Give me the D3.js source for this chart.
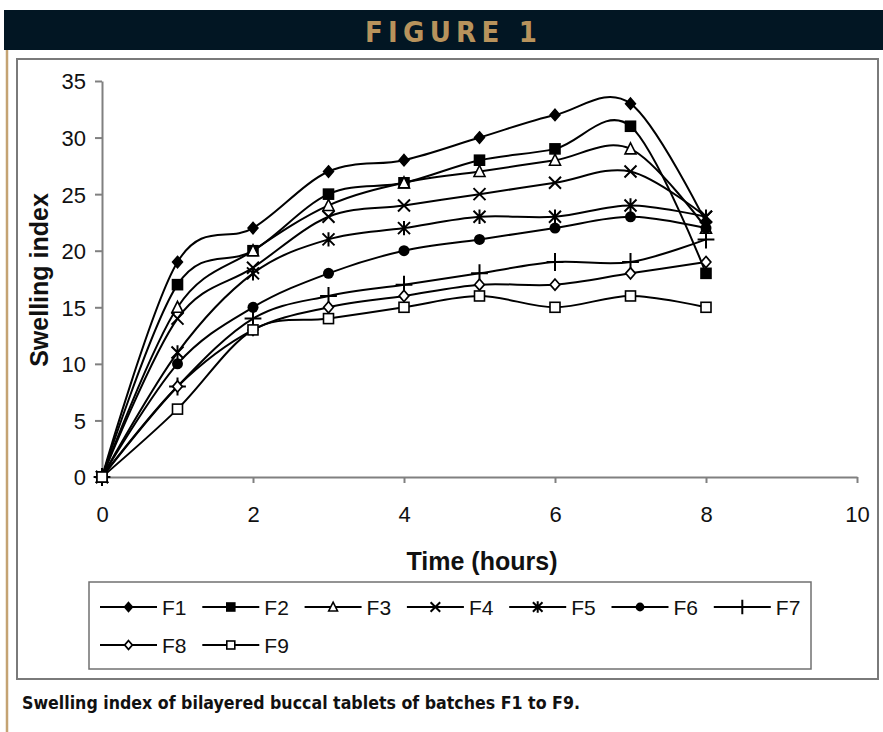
<!DOCTYPE html>
<html>
<head>
<meta charset="utf-8">
<script src="https://cdn.jsdelivr.net/npm/d3@7"></script>
<style>
    body { margin: 0; background: #fff; }
    svg { display: block; }
</style>
</head>
<body>
<div id="example"></div>
<script>
(function () {

    // values
    var times = [0, 1, 2, 3, 4, 5, 6, 7, 8];
    var names = ['F1', 'F2', 'F3', 'F4', 'F5', 'F6', 'F7', 'F8', 'F9'];
    var markers = ['diamondFill', 'squareFill', 'triangle', 'cross', 'asterisk', 'circleFill', 'plus', 'diamond', 'square'];
    var F1 = [0, 19, 22, 27, 28, 30, 32, 33, 22.5],
        F2 = [0, 17, 20, 25, 26, 28, 29, 31, 18],
        F3 = [0, 15, 20, 24, 26, 27, 28, 29, 22],
        F4 = [0, 14, 18.5, 23, 24, 25, 26, 27, 23],
        F5 = [0, 11, 18, 21, 22, 23, 23, 24, 23],
        F6 = [0, 10, 15, 18, 20, 21, 22, 23, 22],
        F7 = [0, 8, 14, 16, 17, 18, 19, 19, 21],
        F8 = [0, 8, 13, 15, 16, 17, 17, 18, 19],
        F9 = [0, 6, 13, 14, 15, 16, 15, 16, 15];
    var series = [F1, F2, F3, F4, F5, F6, F7, F8, F9];
    var xTicks = [0, 2, 4, 6, 8, 10],
        yTicks = [0, 5, 10, 15, 20, 25, 30, 35];

    var width = 883, height = 732;
    var font = '"Liberation Sans", Arial, sans-serif';

    var svg = d3.select('#example').append('svg')
        .attr('width', width).attr('height', height);

    // header band + side rule
    svg.append('rect').attr('x', 4).attr('y', 10).attr('width', width - 4).attr('height', 40)
        .style('fill', '#021623');
    svg.append('text')
        .attr('x', 451).attr('y', 42)
        .attr('text-anchor', 'middle')
        .attr('textLength', 172).attr('lengthAdjust', 'spacing')
        .style('font-family', '"Liberation Sans Narrow", "DejaVu Sans Condensed", sans-serif')
        .style('font-weight', 'bold').style('font-size', '29px')
        .style('fill', '#b8935c')
        .text('FIGURE 1');
    svg.append('line').attr('x1', 7).attr('x2', 7).attr('y1', 50).attr('y2', height)
        .style('stroke', '#c4a373').style('stroke-width', 2.5);

    // chart frame
    svg.append('rect').attr('x', 17).attr('y', 59).attr('width', 861).attr('height', 620)
        .style('fill', '#fff').style('stroke', '#7a7a7a').style('stroke-width', 2);

    var x = d3.scaleLinear().domain([0, 10]).range([102, 857]),
        y = d3.scaleLinear().domain([0, 35]).range([477, 81]);

    var xAxis = svg.append('g').attr('transform', 'translate(0,' + y(0) + ')')
        .call(d3.axisBottom(x).tickValues(xTicks).tickSizeInner(6).tickSizeOuter(0).tickPadding(20));
    var yAxis = svg.append('g').attr('transform', 'translate(' + x(0) + ',0)')
        .call(d3.axisLeft(y).tickValues(yTicks).tickSizeInner(7).tickSizeOuter(0).tickPadding(9));
    [xAxis, yAxis].forEach(function (ax) {
        ax.selectAll('path, line').style('stroke', '#808080').style('stroke-width', 2);
        ax.selectAll('text')
            .style('font-family', font)
            .style('font-size', '22px').style('fill', '#111');
    });
    xAxis.selectAll('text').attr('dy', '0.85em');
    yAxis.selectAll('text').attr('dy', '0.36em');

    svg.append('text')
        .attr('x', 482).attr('y', 570).attr('text-anchor', 'middle')
        .style('font-family', font)
        .style('font-weight', 'bold').style('font-size', '25px').style('fill', '#111')
        .text('Time (hours)');
    svg.append('text')
        .attr('transform', 'translate(48,280) rotate(-90)').attr('text-anchor', 'middle')
        .style('font-family', font)
        .style('font-weight', 'bold').style('font-size', '25px').style('fill', '#111')
        .text('Swelling index');

    // marker drawing
    function drawMarker(g, type, s) {
        var k = s / 10;
        if (type === 'diamondFill' || type === 'diamond') {
            g.append('path').attr('d', d3.symbol(d3.symbolDiamond2, 60 * k * k)())
                .attr('transform', 'scale(1,1.15)')
                .style('fill', type === 'diamondFill' ? '#000' : '#fff').style('stroke', '#000').style('stroke-width', 1.6);
        } else if (type === 'squareFill' || type === 'square') {
            g.append('rect').attr('x', -5 * k).attr('y', -5 * k).attr('width', 10 * k).attr('height', 10 * k)
                .style('fill', type === 'squareFill' ? '#000' : '#fff').style('stroke', '#000').style('stroke-width', 1.6);
        } else if (type === 'triangle') {
            g.append('path').attr('d', 'M0,' + (-6 * k) + 'L' + (5.5 * k) + ',' + (5 * k) + 'L' + (-5.5 * k) + ',' + (5 * k) + 'Z')
                .style('fill', '#fff').style('stroke', '#000').style('stroke-width', 1.6);
        } else if (type === 'circleFill') {
            g.append('circle').attr('r', 5.5 * k).style('fill', '#000');
        } else {
            var p = '';
            var r = 6 * k;
            if (type === 'cross' || type === 'asterisk')
                p += 'M' + (-r) + ',' + (-r) + 'L' + r + ',' + r + 'M' + (-r) + ',' + r + 'L' + r + ',' + (-r);
            if (type === 'asterisk')
                p += 'M0,' + (-r * 1.2) + 'L0,' + (r * 1.2);
            if (type === 'plus')
                p += 'M' + (-r * 1.4) + ',0L' + (r * 1.4) + ',0M0,' + (-r * 1.5) + 'L0,' + (r * 1.5);
            g.append('path').attr('d', p).style('fill', 'none').style('stroke', '#000').style('stroke-width', 2);
        }
    }

    var line = d3.line()
        .x(function (d) { return x(d[0]); })
        .y(function (d) { return y(d[1]); })
        .curve(d3.curveCardinal.tension(0));

    series.forEach(function (vals, i) {
        var pts = times.map(function (t, j) { return [t, vals[j]]; });
        var g = svg.append('g').attr('class', 'series ' + names[i]);
        g.append('path').attr('d', line(pts))
            .style('fill', 'none').style('stroke', '#000').style('stroke-width', 2);
        pts.forEach(function (p) {
            drawMarker(g.append('g').attr('transform', 'translate(' + x(p[0]) + ',' + y(p[1]) + ')'), markers[i], 10);
        });
    });

    // legend
    svg.append('rect').attr('x', 89).attr('y', 582).attr('width', 722).attr('height', 87)
        .style('fill', '#fff').style('stroke', '#707070').style('stroke-width', 1.5);
    var leg = svg.append('g').selectAll('g').data(names).enter().append('g')
        .attr('transform', function (d, i) {
            return 'translate(' + (100 + (i % 7) * 102.3) + ',' + (607 + Math.floor(i / 7) * 38) + ')';
        });
    leg.append('line').attr('x1', 0).attr('x2', 57)
        .style('stroke', '#000').style('stroke-width', 2);
    leg.each(function (d, i) {
        drawMarker(d3.select(this).append('g').attr('transform', 'translate(28.5,0)'), markers[i], 8);
    });
    leg.append('text').attr('x', 62).attr('dy', '0.36em')
        .style('font-family', font)
        .style('font-size', '21px').style('fill', '#111')
        .text(function (d) { return d; });

    // caption
    svg.append('text')
        .attr('x', 22).attr('y', 709)
        .attr('textLength', 558).attr('lengthAdjust', 'spacingAndGlyphs')
        .style('font-family', '"Liberation Sans Narrow", "DejaVu Sans Condensed", sans-serif')
        .style('font-weight', 'bold').style('font-size', '18px').style('fill', '#111')
        .text('Swelling index of bilayered buccal tablets of batches F1 to F9.');
}());
</script>
</body>
</html>
